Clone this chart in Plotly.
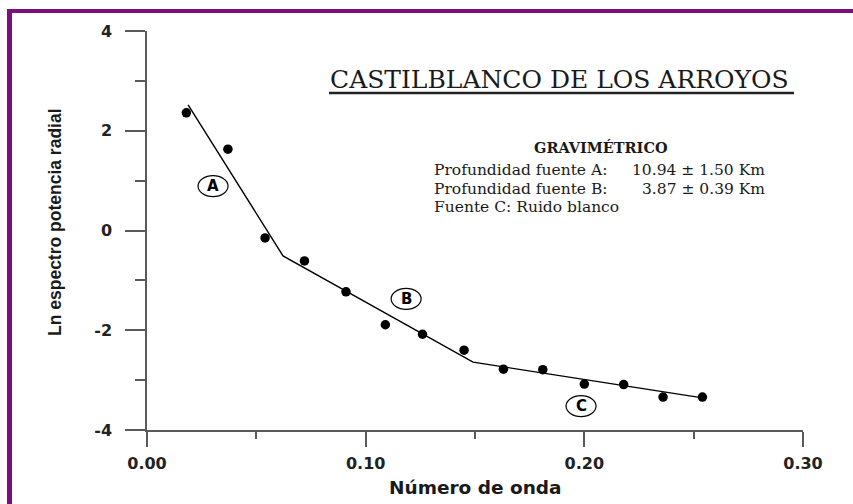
import plotly.graph_objects as go

# Radial power spectrum samples (wavenumber vs. ln of radial power)
wavenumber = [0.018, 0.037, 0.054, 0.072, 0.091, 0.109, 0.126, 0.145,
              0.163, 0.181, 0.200, 0.218, 0.236, 0.254]
ln_power = [2.36, 1.63, -0.15, -0.61, -1.23, -1.89, -2.08, -2.40,
            -2.78, -2.79, -3.08, -3.09, -3.34, -3.34]

# Piecewise straight-line fit (sources A, B, C)
fit_x = [0.0188, 0.0622, 0.1491, 0.2548]
fit_y = [2.52, -0.51, -2.64, -3.36]

# Circled source labels
source_labels = ["A", "B", "C"]
label_x = [0.0302, 0.1185, 0.1985]
label_y = [0.89, -1.37, -3.52]

# Axis ticks
x_ticks = [0.0, 0.1, 0.2, 0.3]
x_tick_text = ["0.00", "0.10", "0.20", "0.30"]
y_ticks = [-4, -2, 0, 2, 4]
y_tick_text = ["-4", "-2", "0", "2", "4"]

W, H = 853, 504
ML, MR, MT, MB = 147, 50, 31, 74
PW, PH = W - ML - MR, H - MT - MB


def px(x):
    return (x - ML) / PW


def py(y):
    return (H - MB - y) / PH


AXIS_GREY = "#5a5a5a"
PURPLE = "#7d0f7d"
INK = "#1a1a1a"
SANS = "DejaVu Sans"
SERIF = "DejaVu Serif"

fig = go.Figure()

fig.add_trace(go.Scatter(
    x=fit_x, y=fit_y, mode="lines",
    line=dict(color="black", width=1.4),
    hoverinfo="skip", showlegend=False,
))
fig.add_trace(go.Scatter(
    x=wavenumber, y=ln_power, mode="markers",
    marker=dict(color="black", size=9.5, line=dict(width=0)),
    showlegend=False,
))

shapes = []
annotations = []

for lab, lx, ly in zip(source_labels, label_x, label_y):
    shapes.append(dict(
        type="circle", xref="x", yref="y",
        xsizemode="pixel", ysizemode="pixel",
        xanchor=lx, yanchor=ly,
        x0=-15, x1=15, y0=-10.5, y1=10.5,
        line=dict(color="black", width=1.2),
    ))
    annotations.append(dict(
        x=lx, y=ly, xref="x", yref="y", text=lab, showarrow=False,
        font=dict(family=SANS, size=15, color="black", weight="bold"),
        xanchor="center", yanchor="middle",
    ))

# Page frame (top and left edges)
shapes.append(dict(type="rect", xref="paper", yref="paper",
                   x0=px(7), x1=px(12), y0=py(520), y1=py(9),
                   fillcolor=PURPLE, line=dict(width=0), layer="above"))
shapes.append(dict(type="rect", xref="paper", yref="paper",
                   x0=px(7), x1=px(870), y0=py(13), y1=py(9),
                   fillcolor=PURPLE, line=dict(width=0), layer="above"))

# Title underline
shapes.append(dict(type="line", xref="paper", yref="paper",
                   x0=px(329), x1=px(794), y0=py(93), y1=py(93),
                   line=dict(color="#222", width=2.5)))


def note(x, y, text, size, family=SERIF, anchor="left", weight="normal",
         angle=0):
    return dict(x=px(x), y=py(y), xref="paper", yref="paper", text=text,
                showarrow=False, textangle=angle,
                font=dict(family=family, size=size, color=INK, weight=weight),
                xanchor=anchor, yanchor="middle")


annotations += [
    note(559, 79, "CASTILBLANCO DE LOS ARROYOS", 25, anchor="center"),
    note(601, 147, "GRAVIMÉTRICO", 14.5, anchor="center", weight="bold"),
    note(432, 170, "Profundidad fuente A:", 15.5),
    note(767, 170, "10.94 ± 1.50 Km", 15.5, anchor="right"),
    note(432, 188.5, "Profundidad fuente B:", 15.5),
    note(767, 188.5, "3.87 ± 0.39 Km", 15.5, anchor="right"),
    note(432, 207, "Fuente C: Ruido blanco", 15.5),
    # Axis titles
    note(475, 487, "Número de onda", 18.5, family=SANS, anchor="center",
         weight="bold"),
    note(55, 222, "Ln espectro potencia radial", 17.5,
         family="Liberation Sans", anchor="center", weight="bold", angle=-90),
]

fig.update_layout(
    width=W, height=H,
    margin=dict(l=ML, r=MR, t=MT, b=MB, pad=0),
    paper_bgcolor="white", plot_bgcolor="white",
    showlegend=False,
    shapes=shapes,
    annotations=annotations,
)

fig.update_xaxes(
    range=[0, 0.3], tickmode="array", tickvals=x_ticks, ticktext=x_tick_text,
    showgrid=False, zeroline=False,
    showline=True, linecolor=AXIS_GREY, linewidth=1.5,
    ticks="outside", ticklen=15, tickwidth=1.5, tickcolor=AXIS_GREY,
    ticklabelstandoff=3,
    minor=dict(dtick=0.05, tick0=0, ticks="outside", ticklen=7,
               tickwidth=1.5, tickcolor=AXIS_GREY),
    tickfont=dict(family=SANS, size=16, color="#222", weight="bold"),
)
fig.update_yaxes(
    range=[-4, 4], tickmode="array", tickvals=y_ticks, ticktext=y_tick_text,
    showgrid=False, zeroline=False,
    showline=True, linecolor=AXIS_GREY, linewidth=1.5,
    ticks="outside", ticklen=20, tickwidth=1.5, tickcolor=AXIS_GREY,
    ticklabelstandoff=10,
    minor=dict(dtick=1, tick0=0, ticks="outside", ticklen=10,
               tickwidth=1.5, tickcolor=AXIS_GREY),
    tickfont=dict(family=SANS, size=16, color="#222", weight="bold"),
)

fig.write_html("out.html")
